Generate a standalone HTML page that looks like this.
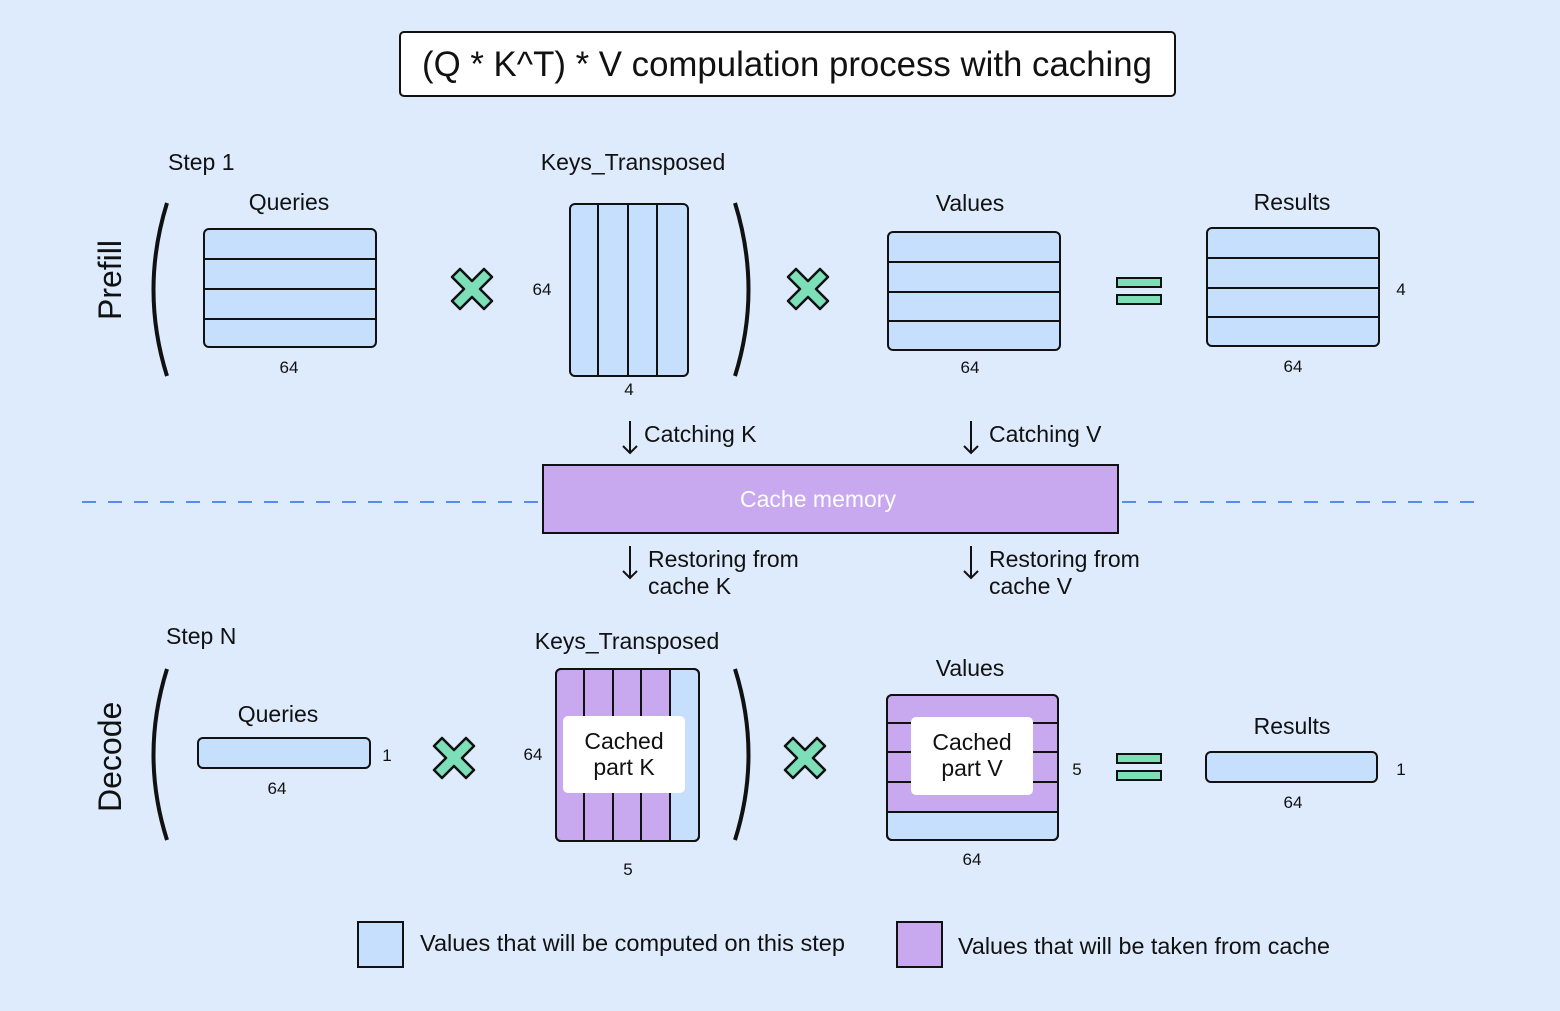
<!DOCTYPE html>
<html><head><style>body{margin:0;background:#deebfc}svg{display:block}text{font-family:"Liberation Sans",sans-serif;fill:#111}</style></head><body>
<svg width="1560" height="1011" viewBox="0 0 1560 1011" xmlns="http://www.w3.org/2000/svg">
<rect width="1560" height="1011" fill="#deebfc"/>
<defs>
<g id="x"><path d="M-12,-20 L0,-8 L12,-20 L20,-12 L8,0 L20,12 L12,20 L0,8 L-12,20 L-20,12 L-8,0 L-20,-12 Z" fill="#7ddfb8" stroke="#111" stroke-width="2.5" stroke-linejoin="round"/></g>
<g id="eq"><rect x="-22" y="-13" width="44" height="9" fill="#7ddfb8" stroke="#111" stroke-width="2"/><rect x="-22" y="4" width="44" height="9" fill="#7ddfb8" stroke="#111" stroke-width="2"/></g>
</defs>
<rect x="400" y="32" width="775" height="64" rx="4" fill="#fff" stroke="#111" stroke-width="2"/>
<text x="787" y="76" font-size="35" text-anchor="middle" textLength="730" lengthAdjust="spacingAndGlyphs">(Q * K^T) * V compulation process with caching</text>
<g stroke="#111" stroke-width="2" fill="#c6dffc">
<rect x="204" y="229" width="172" height="118" rx="5"/><path d="M204 259H376M204 289H376M204 319H376"/>
<rect x="570" y="204" width="118" height="172" rx="5"/><path d="M598 204V376M628 204V376M657 204V376"/>
<rect x="888" y="232" width="172" height="118" rx="5"/><path d="M888 262H1060M888 292H1060M888 321H1060"/>
<rect x="1207" y="228" width="172" height="118" rx="5"/><path d="M1207 258H1379M1207 288H1379M1207 317H1379"/>
<rect x="198" y="738" width="172" height="30" rx="5"/>
<rect x="1206" y="752" width="171" height="30" rx="5"/>
<rect x="556" y="669" width="143" height="172" rx="5"/>
<path d="M561 670H670V840H561Q557 840 557 836V674Q557 670 561 670Z" fill="#c8a8ee" stroke="none"/>
<path d="M584 669V841M613 669V841M641 669V841M670 669V841" fill="none"/>
<rect x="556" y="669" width="143" height="172" rx="5" fill="none"/>
<rect x="887" y="695" width="171" height="145" rx="5"/>
<path d="M892 696H1057V812H888V700Q888 696 892 696Z" fill="#c8a8ee" stroke="none"/>
<path d="M887 723H1058M887 752H1058M887 782H1058M887 812H1058" fill="none"/>
<rect x="887" y="695" width="171" height="145" rx="5" fill="none"/>
</g>
<rect x="563" y="716" width="122" height="77" rx="5" fill="#fff"/>
<rect x="911" y="717" width="122" height="78" rx="5" fill="#fff"/>
<g stroke="#111" stroke-width="4" fill="none">
<path d="M167 203Q140 290 167 376M735 203Q762 290 735 376M167 669Q140 755 167 840M735 669Q762 755 735 840"/>
</g>
<use href="#x" x="472" y="289"/><use href="#x" x="808" y="289"/><use href="#x" x="454" y="758"/><use href="#x" x="805" y="758"/>
<use href="#eq" x="1139" y="291"/><use href="#eq" x="1139" y="767"/>
<path d="M82 502H1480" stroke="#5b8be8" stroke-width="2" stroke-dasharray="14,12"/>
<rect x="543" y="465" width="575" height="68" fill="#c8a8ee" stroke="#111" stroke-width="2"/>
<text x="818" y="507" font-size="23" text-anchor="middle" style="fill:#fff">Cache memory</text>
<g stroke="#111" stroke-width="2" fill="none">
<path d="M630 421V453M623 446L630 453L637 446M971 421V453M964 446L971 453L978 446M630 546V578M623 571L630 578L637 571M971 546V578M964 571L971 578L978 571"/>
</g>
<g font-size="23">
<text x="644" y="442">Catching K</text><text x="989" y="442">Catching V</text>
<text x="648" y="567">Restoring from</text><text x="648" y="594">cache K</text>
<text x="989" y="567">Restoring from</text><text x="989" y="594">cache V</text>
<text x="168" y="170">Step 1</text><text x="166" y="644">Step N</text>
<text x="289" y="210" text-anchor="middle">Queries</text>
<text x="633" y="170" text-anchor="middle">Keys_Transposed</text>
<text x="970" y="211" text-anchor="middle">Values</text>
<text x="1292" y="210" text-anchor="middle">Results</text>
<text x="278" y="722" text-anchor="middle">Queries</text>
<text x="627" y="649" text-anchor="middle">Keys_Transposed</text>
<text x="970" y="676" text-anchor="middle">Values</text>
<text x="1292" y="734" text-anchor="middle">Results</text>
<text x="624" y="749" text-anchor="middle">Cached</text><text x="624" y="775" text-anchor="middle">part K</text>
<text x="972" y="750" text-anchor="middle">Cached</text><text x="972" y="776" text-anchor="middle">part V</text>
<text x="420" y="951" textLength="425" lengthAdjust="spacingAndGlyphs">Values that will be computed on this step</text>
<text x="958" y="954" textLength="372" lengthAdjust="spacingAndGlyphs">Values that will be taken from cache</text>
</g>
<g font-size="32">
<text transform="translate(121,320) rotate(-90)">Prefill</text>
<text transform="translate(121,812) rotate(-90)">Decode</text>
</g>
<g font-size="17" text-anchor="middle">
<text x="289" y="373">64</text><text x="542" y="295">64</text><text x="629" y="395">4</text>
<text x="970" y="373">64</text><text x="1293" y="372">64</text><text x="1401" y="295">4</text>
<text x="277" y="794">64</text><text x="387" y="761">1</text><text x="533" y="760">64</text><text x="628" y="875">5</text>
<text x="1077" y="775">5</text><text x="972" y="865">64</text><text x="1293" y="808">64</text><text x="1401" y="775">1</text>
</g>
<rect x="358" y="922" width="45" height="45" fill="#c6dffc" stroke="#111" stroke-width="2"/>
<rect x="897" y="922" width="45" height="45" fill="#c8a8ee" stroke="#111" stroke-width="2"/>
</svg>
</body></html>
